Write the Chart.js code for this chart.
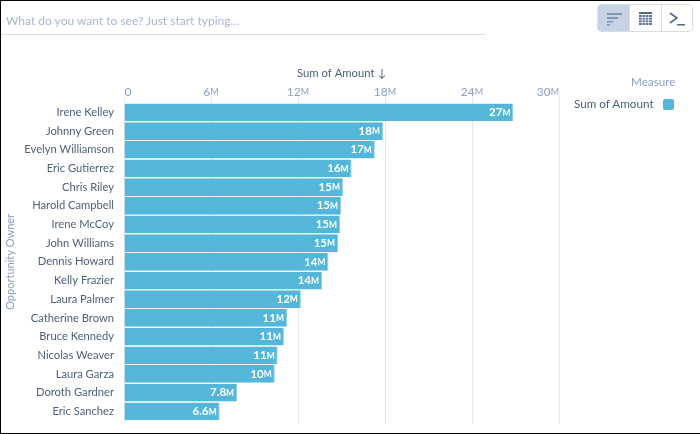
<!DOCTYPE html>
<html><head><meta charset="utf-8">
<style>
html,body{margin:0;padding:0;background:#fff;width:700px;height:434px;overflow:hidden}
#frame{position:absolute;left:0;top:0;width:700px;height:434px;box-sizing:border-box;border-top:1px solid #000;border-left:1px solid #000;border-bottom:1px solid #000;}
canvas{position:absolute;left:0;top:0}
.t{position:absolute;font-family:Lato,sans-serif;white-space:nowrap}
#search{left:6px;top:13px;font-size:12px;color:#a9b6d0}
#line{position:absolute;left:1px;top:34px;width:484px;height:1px;background:#d8dde6}
#measure{left:631px;top:74px;font-size:11.7px;color:#8c9fc0}
#series{left:574px;top:96px;font-size:11.7px;color:#50607a}
#swatch{position:absolute;left:663px;top:99px;width:11px;height:11px;border-radius:2px;background:#54b7d9}
#tools{position:absolute;left:597px;top:4px;width:96px;height:28px;box-sizing:border-box;border:1px solid #d8dde6;border-radius:4px;overflow:hidden;display:flex;background:#fff}
#tools div{height:26px;box-sizing:border-box}
</style>
<script src="https://cdn.jsdelivr.net/npm/chart.js@4"></script>
</head><body>
<div id="frame"></div>
<canvas id="c" width="700" height="434"></canvas>
<div class="t" id="search">What do you want to see? Just start typing...</div>
<div id="line"></div>
<div id="tools">
<div style="width:32px;background:#c5d3e4;border-right:1px solid #d8dde6"><svg width="31" height="26"><g fill="#7f95b5"><rect x="9" y="8" width="15" height="2"/><rect x="9" y="12" width="11" height="2"/><rect x="9" y="16" width="6" height="1.5"/><rect x="9" y="19" width="3" height="1.5"/></g></svg></div>
<div style="width:32px;border-right:1px solid #d8dde6"><svg width="31" height="26"><g fill="#54698d"><rect x="9" y="7" width="13" height="2"/><rect x="9" y="10" width="13" height="10" fill="#5f7599"/></g><g stroke="#fff" stroke-width=".7"><path d="M12.2 10v10M15.4 10v10M18.6 10v10M9 12.5h13M9 15h13M9 17.5h13"/></g></svg></div>
<div style="width:30px"><svg width="30" height="26"><path d="M8 8l7 5-7 5" fill="none" stroke="#54698d" stroke-width="1.6"/><rect x="15" y="19" width="8" height="1.5" fill="#54698d"/></svg></div>
</div>
<div class="t" id="measure">Measure</div>
<div class="t" id="series">Sum of Amount</div>
<div id="swatch"></div>
<script>
const owners=["Irene Kelley","Johnny Green","Evelyn Williamson","Eric Gutierrez","Chris Riley","Harold Campbell","Irene McCoy","John Williams","Dennis Howard","Kelly Frazier","Laura Palmer","Catherine Brown","Bruce Kennedy","Nicolas Weaver","Laura Garza","Doroth Gardner","Eric Sanchez"];
const amounts=[26.86,17.86,17.3,15.7,15.1,14.97,14.9,14.76,14.1,13.66,12.2,11.24,11.03,10.6,10.4,7.8,6.6];
const valueLabels=["27","18","17","16","15","15","15","15","14","14","12","11","11","11","10","7.8","6.6"];
const FONT='Lato';
// number at full size followed by a small-cap M, as in the reference
function numM(g,n,x,y,align,f1,f2){
  g.font=f1;const w1=g.measureText(n).width;
  g.font=f2;const w2=n==='0'?0:g.measureText('M').width;
  const x0=align==='right'?x-w1-w2:align==='center'?x-(w1+w2)/2:x;
  g.font=f1;g.fillText(n,x0,y);
  if(n!=='0'){g.font=f2;g.fillText('M',x0+w1,y+.5);}
}
const labelPlugin={id:'labels',
 afterDatasetsDraw(ch){
  const g=ch.ctx,m=ch.getDatasetMeta(0);
  g.save();g.fillStyle='#fff';g.textBaseline='middle';g.textAlign='left';
  m.data.forEach((b,i)=>numM(g,valueLabels[i],b.x-3,b.y,'right','bold 11.5px '+FONT,'bold 8.5px '+FONT));
  g.restore();
 },
 afterDraw(ch){
  const g=ch.ctx,s=ch.scales.x,last=s.ticks.length-1;
  g.save();g.fillStyle='#8c9fc0';g.textBaseline='middle';g.textAlign='left';
  s.ticks.forEach((t,i)=>{
    const x=s.getPixelForTick(i);
    const align=i===0?'left':i===last?'right':'center';
    numM(g,t.value===0?'0':String(t.value),x+(i===0?.5:0),92,align,'12px '+FONT,'9px '+FONT);
    g.strokeStyle='#e3e7ee';g.lineWidth=1;g.beginPath();
    g.moveTo(Math.round(x)+.5,ch.chartArea.bottom);g.lineTo(Math.round(x)+.5,ch.chartArea.bottom+3);g.stroke();
  });
  g.restore();
 }};
new Chart(document.getElementById('c'),{
 type:'bar',
 data:{labels:owners,datasets:[{data:amounts,backgroundColor:'#54b7d9',borderColor:'#8fd0e6',borderWidth:{right:1,top:0,bottom:0,left:0},barPercentage:.95,categoryPercentage:1}]},
 plugins:[labelPlugin],
 options:{indexAxis:'y',responsive:false,animation:false,
  layout:{padding:{left:4,right:141,top:65,bottom:13.3}},
  plugins:{legend:{display:false},tooltip:{enabled:false}},
  scales:{
   x:{position:'top',min:0,max:30,
    title:{display:true,text:'Sum of Amount ↓',color:'#50607a',font:{family:FONT,size:11.3},padding:{top:2,bottom:2}},
    grid:{color:'#e3e7ee',tickLength:6},border:{display:false},
    ticks:{stepSize:6,display:false},
    afterFit(s){s.height=38}},
   y:{grid:{display:false},border:{display:false},
    title:{display:true,text:'Opportunity Owner',color:'#8c9fc0',font:{family:FONT,size:11},padding:{top:0,bottom:0}},
    ticks:{color:'#50607a',font:{family:FONT,size:11.2},padding:2,autoSkip:false},
    afterFit(s){s.width=120}}
  }}
});
</script>
</body></html>
